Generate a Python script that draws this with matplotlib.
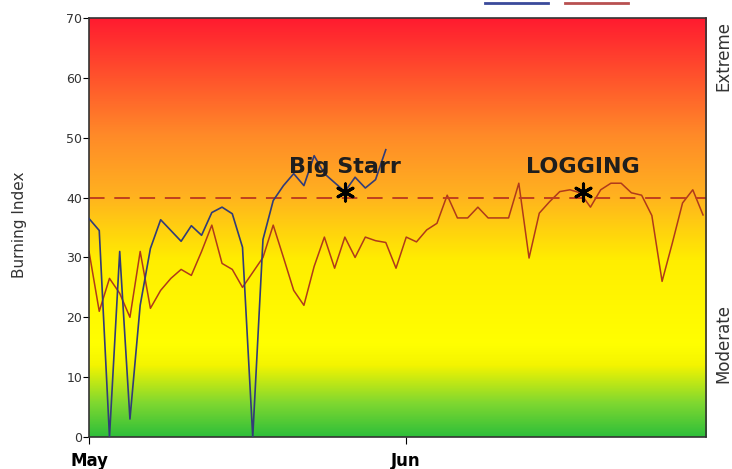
import numpy as np
import matplotlib.pyplot as plt
from matplotlib.colors import LinearSegmentedColormap
from matplotlib.lines import Line2D

# Burning Index par jour depuis le 1er mai
blue_days = list(range(30))
blue_vals = [36.5, 34.5, 0, 31, 3, 22, 31.5, 36.3, 34.5, 32.7,
             35.3, 33.7, 37.5, 38.4, 37.3, 31.7, 0, 33, 39.5, 42,
             44, 42, 47, 44, 42.5, 41, 43.4, 41.6, 43, 48]

red_days = list(range(61))
red_vals = [31, 21, 26.5, 24, 20, 31, 21.5, 24.5, 26.5, 28,
            27, 31, 35.4, 29, 28, 25, 27.5, 30, 35.4, 30,
            24.5, 22, 28.5, 33.4, 28.2, 33.4, 30, 33.4, 32.8, 32.5,
            28.2, 33.4, 32.6, 34.6, 35.7, 40.4, 36.6, 36.6, 38.4, 36.6,
            36.6, 36.6, 42.4, 29.9, 37.4, 39.3, 41, 41.3, 40.8, 38.4,
            41.3, 42.4, 42.4, 40.8, 40.4, 37, 26, 32.4, 39.1, 41.3, 37.1]

threshold = 40
fires = ["Big Starr", "LOGGING"]
fire_days = [25.0, 48.3]
fire_vals = [41, 41]

month_ticks = [0, 31]
month_labels = ["May", "Jun"]

fig = plt.figure(figsize=(7.32, 4.69), dpi=100)
ax = fig.add_axes([0.1216, 0.0682, 0.843, 0.8934])

# fond en degrade vert -> jaune -> orange -> rouge
cmap = LinearSegmentedColormap.from_list("bi", [
    (0.0, "#2fbf3a"), (0.08, "#80d830"), (0.17, "#f4f400"), (0.22, "#ffff00"),
    (0.42, "#ffee00"), (0.58, "#ffb020"), (0.72, "#ff8a28"), (1.0, "#ff1a30")])
grad = np.linspace(0, 1, 256).reshape(-1, 1)
ax.imshow(grad, cmap=cmap, origin="lower", aspect="auto",
          extent=[0, 60.3, 0, 70], zorder=0)

ax.plot(red_days, red_vals, color="#b03a1a", lw=1.1, zorder=2)
ax.plot(blue_days, blue_vals, color="#323c78", lw=1.2, zorder=3)
ax.axhline(threshold, color="#c0401e", lw=1.4, dashes=(8, 5), zorder=2)

ax.scatter(fire_days, fire_vals, marker=(6, 2, 0), s=150, color="black",
           linewidths=2.2, zorder=4)
for name, d, v in zip(fires, fire_days, fire_vals):
    ax.text(d, v + 4.1, name, ha="center", va="center", fontsize=16,
            fontweight="bold", color="#1e1e1e", zorder=5)

ax.set_xlim(0, 60.3)
ax.set_ylim(0, 70)
ax.set_yticks(range(0, 71, 10))
ax.set_yticklabels([str(v) for v in range(0, 71, 10)], fontsize=9, color="#333333")
ax.set_xticks(month_ticks)
ax.set_xticklabels(month_labels, fontsize=12, fontweight="bold")
ax.tick_params(axis="y", length=4, direction="out", pad=1)
ax.tick_params(axis="x", length=5, direction="out", pad=6)
for s in ax.spines.values():
    s.set_color("#333333")
    s.set_linewidth(1.2)

fig.text(0.026, 0.52, "Burning Index", rotation=90, ha="center", va="center",
         fontsize=11, color="#333333")
fig.text(0.988, 0.88, "Extreme", rotation=90, ha="center", va="center",
         fontsize=12, color="#333333")
fig.text(0.988, 0.268, "Moderate", rotation=90, ha="center", va="center",
         fontsize=12, color="#333333")

# bout de legende coupe en haut
fig.add_artist(Line2D([485 / 732, 548 / 732], [0.994, 0.994], color="#3a4a9a", lw=2))
fig.add_artist(Line2D([565 / 732, 628 / 732], [0.994, 0.994], color="#b85050", lw=2))

fig.savefig("out.png", dpi=100)
